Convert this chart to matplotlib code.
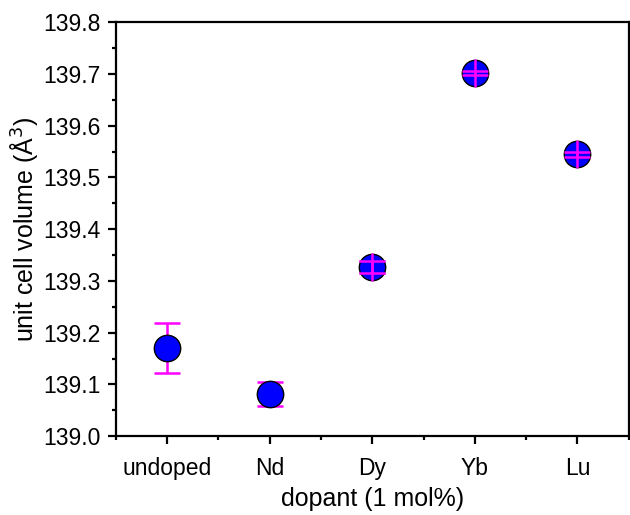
import matplotlib
matplotlib.use("Agg")
import matplotlib.pyplot as plt
from matplotlib.ticker import MultipleLocator

plt.rcParams['font.family'] = ['Liberation Sans', 'DejaVu Sans']

dopants = ["undoped", "Nd", "Dy", "Yb", "Lu"]
volume = [139.170, 139.081, 139.327, 139.702, 139.545]
volume_err = [0.048, 0.023, 0.011, 0.004, 0.005]

fig = plt.figure(figsize=(6.3, 5.15), dpi=100)
ax = fig.add_axes([0.184, 0.153, 0.814, 0.804])

x = list(range(len(dopants)))

# error bars behind markers
ax.errorbar(x, volume, yerr=volume_err, fmt="none", ecolor="#FF00FF",
            elinewidth=1.8, capsize=9.5, capthick=1.8, zorder=2)
ax.plot(x, volume, "o", ms=19, mfc="#0000FF", mec="black", mew=1.0, zorder=3)

# small error bars are drawn over the symbol
small = [i for i in x if volume_err[i] < 0.02]
sx = [x[i] for i in small]
sy = [volume[i] for i in small]
se = [volume_err[i] for i in small]
ax.errorbar(sx, sy, yerr=se, fmt="none", ecolor="#FF00FF",
            elinewidth=1.8, capsize=9.5, capthick=1.8, zorder=4)
ax.plot(sx, sy, "|", ms=20, mew=1.8, color="#FF00FF", zorder=4)

ax.set_xlim(-0.5, 4.5)
ax.set_ylim(139.0, 139.8)
ax.set_xticks(x)
ax.set_xticklabels(dopants)
ax.xaxis.set_minor_locator(MultipleLocator(0.5))
ax.yaxis.set_major_locator(MultipleLocator(0.1))
ax.yaxis.set_minor_locator(MultipleLocator(0.05))
ax.yaxis.set_major_formatter(plt.FormatStrFormatter("%.1f"))

for s in ax.spines.values():
    s.set_linewidth(1.6)
ax.tick_params(which="major", direction="out", length=6, width=1.6,
               labelsize=16.5)
ax.tick_params(axis="y", which="major", pad=5)
ax.tick_params(axis="x", which="major", pad=9)
ax.tick_params(which="minor", direction="out", length=3, width=1.6)
ax.tick_params(axis="x", which="both", top=False)
ax.tick_params(axis="y", which="both", right=False)

ax.set_xlabel("dopant (1 mol%)", fontsize=18, labelpad=5)
ax.set_ylabel("unit cell volume (Å$^3$)", fontsize=18)
ax.yaxis.set_label_coords(-0.148, 0.5)

fig.savefig("out.png", dpi=100)
